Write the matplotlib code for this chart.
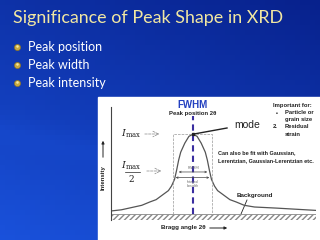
import numpy as np
import matplotlib.pyplot as plt
from matplotlib.patches import Rectangle

plt.rcParams['font.family'] = ['Lato', 'DejaVu Sans']
plt.rcParams['mathtext.fontset'] = 'dejavuserif'

title = 'Significance of Peak Shape in XRD'
bullets = ['Peak position', 'Peak width', 'Peak intensity']

# peak profile (arbitrary units)
two_theta = [0, 5, 10, 15, 19, 22, 25, 28, 29.5, 31, 32, 33, 34, 36, 38, 40,
             42, 44, 46, 47, 48, 49, 50.5, 52, 55, 58, 61, 65, 70, 81, 100]
intensity = [3, 4, 6, 8, 11, 13, 17, 21, 25, 31, 39, 48, 55, 63, 69, 71,
             69, 63, 55, 48, 39, 31, 25, 21, 17, 13, 11, 8, 6.5, 5.5, 3.5]
peak_pos = 40
i_max = 71
fwhm_lo, fwhm_hi = 31.7, 48.3
box_lo, box_hi = 30.2, 49.3

fig = plt.figure(figsize=(3.2, 2.4), dpi=100)

# slide background, pixel coordinates
bg = fig.add_axes([0, 0, 1, 1])
bg.set_xlim(0, 320)
bg.set_ylim(240, 0)
bg.axis('off')
gx, gy = np.meshgrid(np.linspace(0, 1, 64), np.linspace(0, 1, 48))
g = 0.35 * (1 - gx) + 0.65 * gy
g = np.clip(g + 0.08 * np.exp(-((gy - 0.55 - 0.3 * gx) / 0.06) ** 2), 0, 1)
c0 = np.array([0.03, 0.13, 0.55])
c1 = np.array([0.10, 0.32, 0.86])
img = c0 + g[..., None] * (c1 - c0)
bg.imshow(img, extent=(0, 320, 240, 0), aspect='auto', zorder=0)

bg.text(13, 18, title, color='#f1e7a2', fontsize=12.9, va='center', ha='left')
for k, b in enumerate(bullets):
    y = 47 + k * 18
    bg.plot(17, y, 'o', ms=4.5, color='#c8a840', mec='#8a7020', mew=0.4)
    bg.plot(16.5, y - 0.7, 'o', ms=1.8, color='#f4e8a0', mew=0)
    bg.text(28, y, b, color='white', fontsize=9, va='center', ha='left')

bg.add_patch(Rectangle((98, 97), 222, 143, color='white', zorder=1))

# texts around the diagram
bold = dict(fontweight='bold', family=['Liberation Sans', 'DejaVu Sans'], zorder=3)
bg.text(192, 105, 'FWHM', color='#2340c0', fontsize=7, ha='center', va='center', **bold)
bg.text(193, 114, 'Peak position 2θ', color='#222222', fontsize=4.3, ha='center', va='center', **bold)
bg.text(247, 125, 'mode', color='#222222', fontsize=7.5, ha='center', va='center',
        family=['Liberation Sans'], zorder=3)
bg.plot([194, 227], [134, 128], color='#222222', lw=1.0, zorder=3)
bg.text(273, 105, 'Important for:', fontsize=4.2, ha='left', va='center', color='#222222', **bold)
bg.text(276, 113, '•', fontsize=4.2, ha='left', va='center', color='#222222', **bold)
bg.text(285, 113, 'Particle or', fontsize=4.2, ha='left', va='center', color='#222222', **bold)
bg.text(285, 120, 'grain size', fontsize=4.2, ha='left', va='center', color='#222222', **bold)
bg.text(273, 127, '2.', fontsize=4.2, ha='left', va='center', color='#222222', **bold)
bg.text(285, 127, 'Residual', fontsize=4.2, ha='left', va='center', color='#222222', **bold)
bg.text(285, 134, 'strain', fontsize=4.2, ha='left', va='center', color='#222222', **bold)
bg.text(218, 153, 'Can also be fit with Gaussian,', fontsize=4.0, ha='left', va='center',
        color='#222222', **bold)
bg.text(218, 161, 'Lerentzian, Gaussian-Lerentzian etc.', fontsize=4.0, ha='left', va='center',
        color='#222222', **bold)
bg.text(237, 196, 'Background', fontsize=4.5, ha='left', va='center', color='#222222', **bold)
bg.plot([247, 241], [200, 214], color='#222222', lw=0.6, zorder=3)

serif = dict(family=['DejaVu Serif'], color='#222222', zorder=3)
bg.text(131, 134, r'$I_{\max}$', fontsize=7, ha='center', va='center', **serif)
bg.annotate('', xy=(162, 134), xytext=(142, 134), zorder=3,
            arrowprops=dict(arrowstyle='->', color='#888888', lw=0.5, ls='--'))
bg.text(131, 166, r'$I_{\max}$', fontsize=7, ha='center', va='center', **serif)
bg.plot([125, 140], [172, 172], color='#222222', lw=0.5, zorder=3)
bg.text(131, 179, '2', fontsize=6.5, ha='center', va='center', **serif)
bg.annotate('', xy=(164, 171), xytext=(144, 171), zorder=3,
            arrowprops=dict(arrowstyle='->', color='#888888', lw=0.5, ls='--'))
bg.text(103, 178, 'Intensity', rotation=90, fontsize=4.3, ha='center', va='center',
        color='#222222', **bold)
bg.annotate('', xy=(103, 138), xytext=(103, 160), zorder=3,
            arrowprops=dict(arrowstyle='-|>', color='#222222', lw=0.7, mutation_scale=4))
bg.text(183, 227, 'Bragg angle 2θ', fontsize=4.5, ha='center', va='center', color='#222222', **bold)
bg.annotate('', xy=(230, 228), xytext=(207, 228), zorder=3,
            arrowprops=dict(arrowstyle='-|>', color='#222222', lw=0.7, mutation_scale=4))

# peak diagram in data coordinates
ax = fig.add_axes([111 / 320, 20 / 240, 205 / 320, 113 / 240])
ax.set_xlim(0, 100)
ax.set_ylim(-5, 95)
ax.patch.set_alpha(0)
for s in ['top', 'right', 'bottom']:
    ax.spines[s].set_visible(False)
ax.spines['left'].set_color('#444444')
ax.spines['left'].set_linewidth(0.8)
ax.set_xticks([])
ax.set_yticks([])

ax.add_patch(Rectangle((0, -5), 100, 5, facecolor='white', edgecolor='#888888',
                       hatch='//////', lw=0.6))
ax.plot(two_theta, intensity, color='#555555', lw=0.9)
ax.plot([box_lo, box_hi, box_hi, box_lo, box_lo], [0, 0, i_max, i_max, 0],
        color='#999999', lw=0.5, ls='--')
ax.plot([peak_pos, peak_pos], [0, 87], color='#3a2ea0', lw=1.5, ls=(0, (3, 2)))
ax.plot(peak_pos, i_max, 's', color='#222222', ms=2)
ax.annotate('', xy=(fwhm_lo, i_max / 2 + 2), xytext=(fwhm_hi, i_max / 2 + 2),
            arrowprops=dict(arrowstyle='<->', color='#444444', lw=0.5, mutation_scale=3))
ax.text(peak_pos, i_max / 2 + 5, 'FWHM', fontsize=2.5, ha='center', color='#666666')
ax.annotate('', xy=(box_lo, i_max / 2 - 3), xytext=(box_hi, i_max / 2 - 3),
            arrowprops=dict(arrowstyle='<->', color='#444444', lw=0.5, mutation_scale=3))
ax.text(peak_pos, i_max / 2 - 9, 'Integral\nbreadth', fontsize=2.5, ha='center',
        va='center', color='#666666', linespacing=1.0)

fig.savefig('out.png', dpi=100)
